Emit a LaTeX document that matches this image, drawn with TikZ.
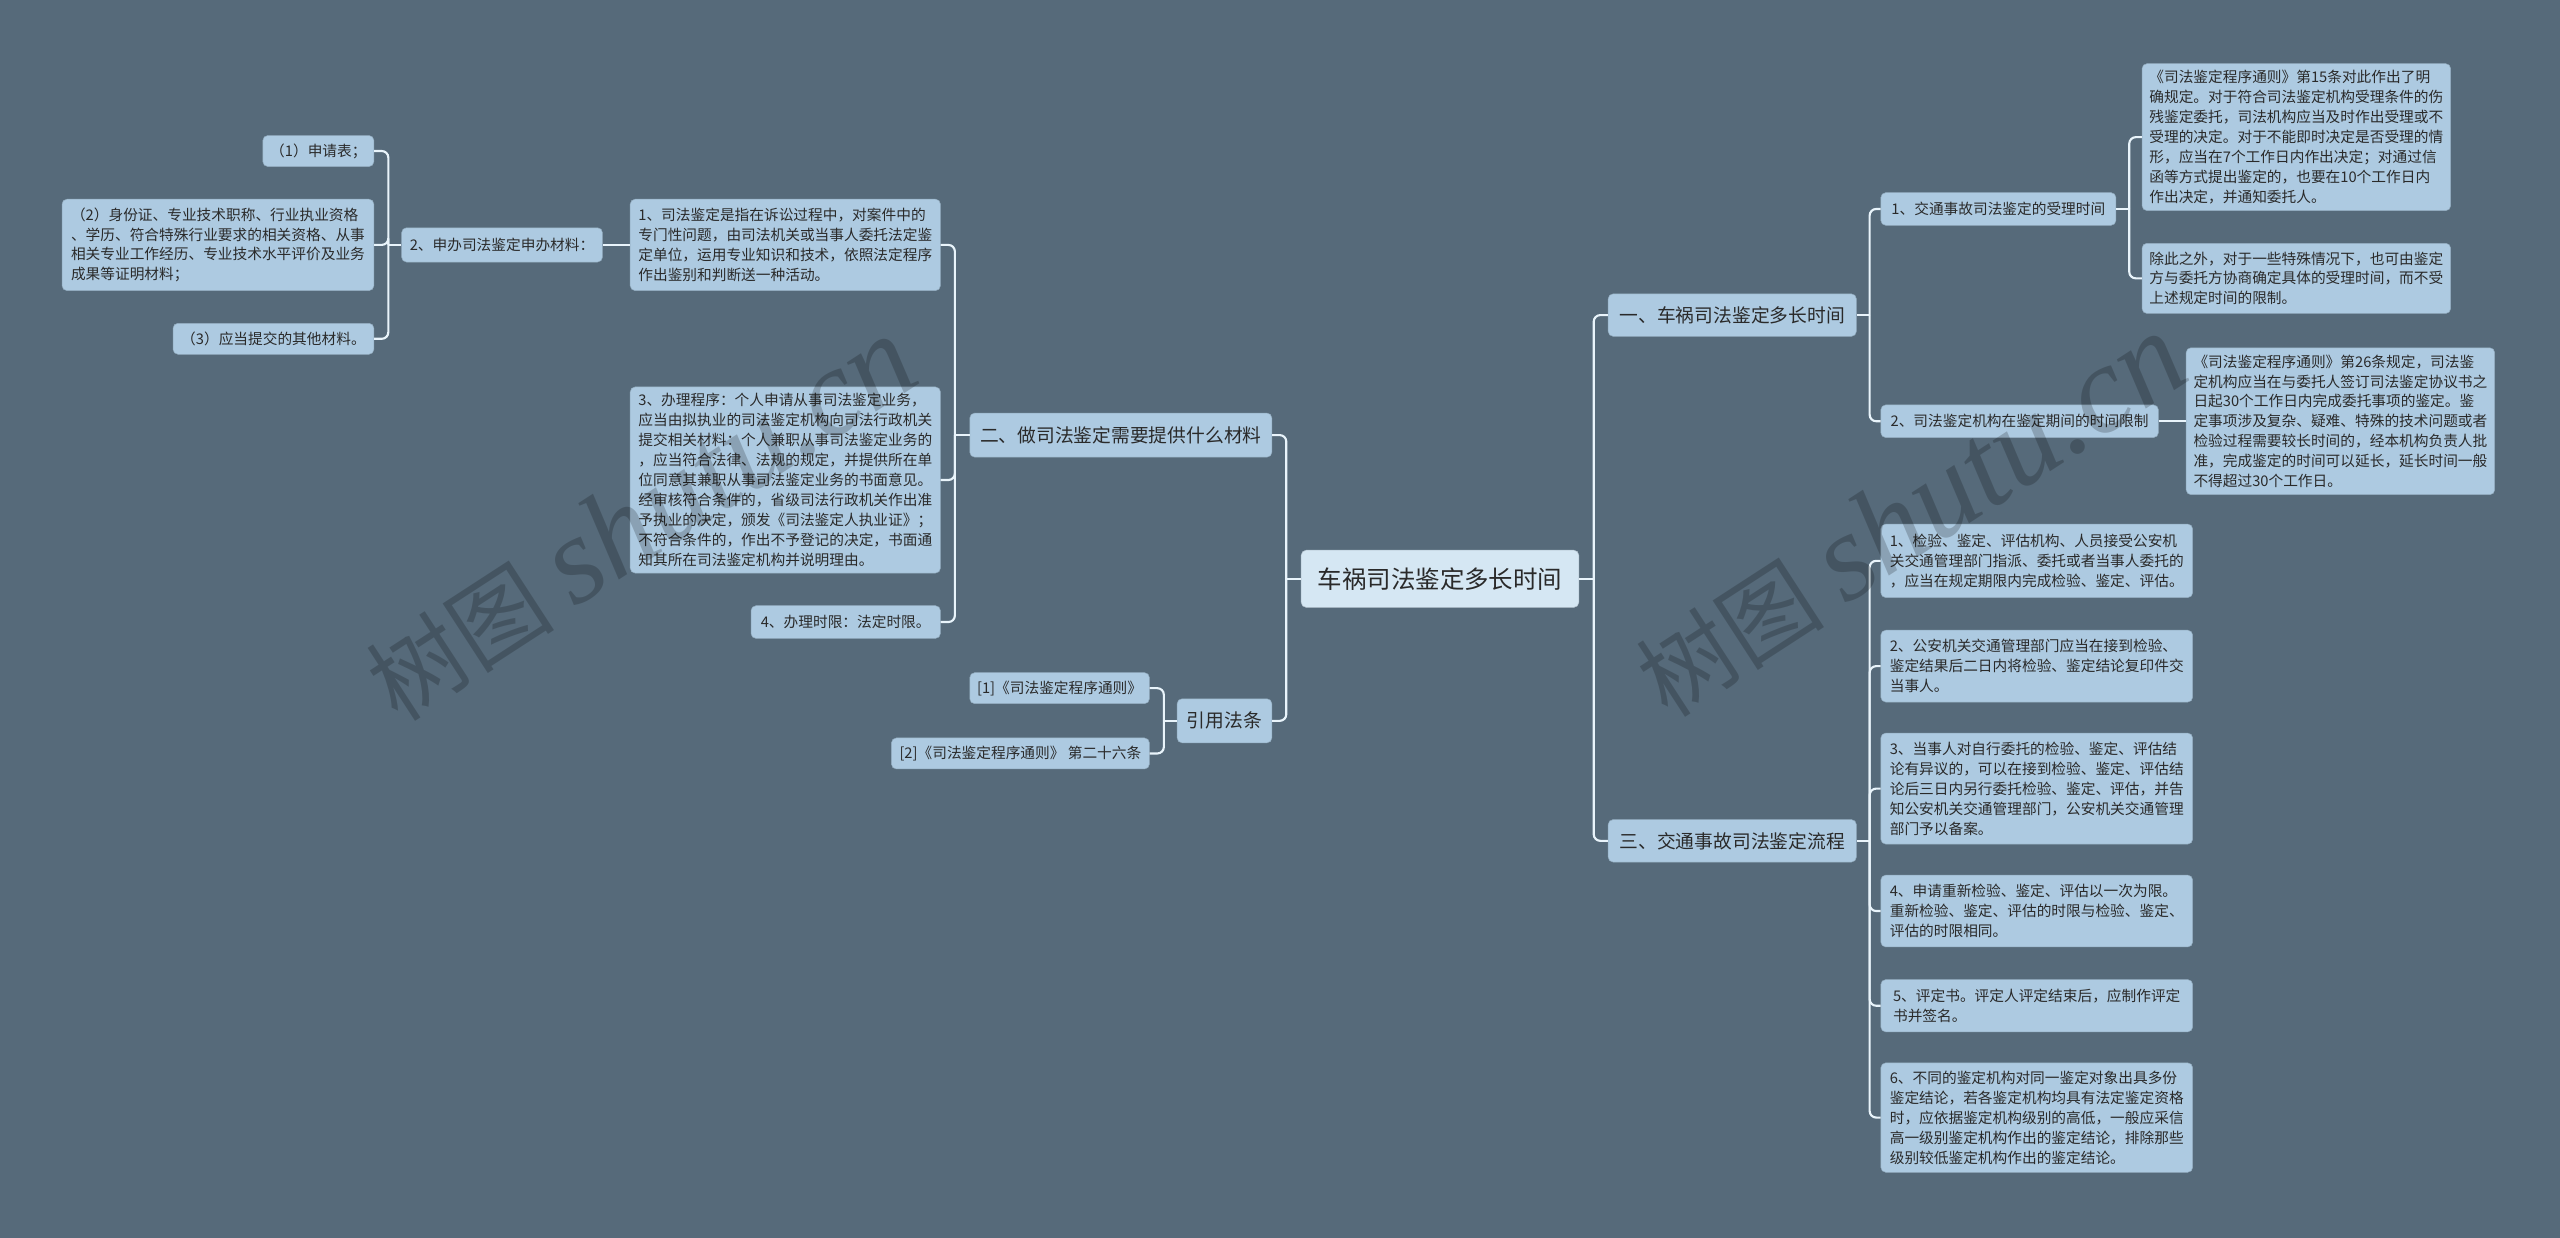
\documentclass[tikz,border=0pt]{standalone}
\usepackage{fontspec}
\newfontfamily\cjk{Noto Sans CJK SC}
\newfontfamily\wmserif{Liberation Serif}
\usetikzlibrary{positioning}
\definecolor{bgslate}{HTML}{566A7A}
\definecolor{boxblue}{HTML}{ADCAE1}
\definecolor{rootblue}{HTML}{D5E7F3}
\definecolor{linkwhite}{HTML}{E9F4FB}
\definecolor{inktext}{HTML}{2A2A2A}
\tikzset{
  link/.style={draw=linkwhite, line width=1.3pt, rounded corners=4pt},
  leafbox/.style={fill=boxblue, draw=boxblue!85!black, line width=0.3pt, rounded corners=3pt,
    text=inktext, align=left, inner sep=2pt, font=\cjk\fontsize{9}{12.2}\selectfont},
  topicbox/.style={leafbox, font=\cjk\fontsize{11.5}{14}\selectfont},
  rootbox/.style={leafbox, fill=rootblue, draw=rootblue!85!black, font=\cjk\fontsize{15}{18}\selectfont},
  wmark/.style={text=black, text opacity=0.2, rotate=33, font=\cjk\fontsize{58}{60}\selectfont}
}

\begin{document}
\begin{tikzpicture}[x=1pt,y=-1pt]
\fill[bgslate] (0,0) rectangle (1568,758);
\useasboundingbox (0,0) rectangle (1568,758);

% --- root ---
\node[rootbox, minimum width=170, minimum height=35] (root) at (882,354.5) {车祸司法鉴定多长时间};

% --- left branch: materials ---
\node[topicbox, minimum width=185, minimum height=27] (need) at (686.5,266.5) {二、做司法鉴定需要提供什么材料};
\node[leafbox, minimum width=190, minimum height=56] (defn) at (481,150)
  {1、司法鉴定是指在诉讼过程中，对案件中的\\专门性问题，由司法机关或当事人委托法定鉴\\定单位，运用专业知识和技术，依照法定程序\\作出鉴别和判断送一种活动。};
\node[leafbox, minimum width=190, minimum height=114] (proc) at (481,294)
  {3、办理程序：个人申请从事司法鉴定业务，\\应当由拟执业的司法鉴定机构向司法行政机关\\提交相关材料：个人兼职从事司法鉴定业务的\\，应当符合法律、法规的规定，并提供所在单\\位同意其兼职从事司法鉴定业务的书面意见。\\经审核符合条件的，省级司法行政机关作出准\\予执业的决定，颁发《司法鉴定人执业证》；\\不符合条件的，作出不予登记的决定，书面通\\知其所在司法鉴定机构并说明理由。};
\node[leafbox, minimum width=116, minimum height=20] (term) at (518,381) {4、办理时限：法定时限。};
\node[leafbox, minimum width=123, minimum height=21] (docs) at (307.5,150) {2、申办司法鉴定申办材料：};
\node[leafbox, minimum width=68, minimum height=19] (docA) at (195,92.5) {（1）申请表；};
\node[leafbox, minimum width=191, minimum height=56] (docB) at (133.5,150)
  {（2）身份证、专业技术职称、行业执业资格\\、学历、符合特殊行业要求的相关资格、从事\\相关专业工作经历、专业技术水平评价及业务\\成果等证明材料；};
\node[leafbox, minimum width=123, minimum height=19] (docC) at (167.5,207.5) {（3）应当提交的其他材料。};

% --- left branch: cited law ---
\node[topicbox, minimum width=58, minimum height=27] (cite) at (750,441.5) {引用法条};
\node[leafbox, minimum width=110, minimum height=19] (refA) at (649,421.5) {[1]《司法鉴定程序通则》};
\node[leafbox, minimum width=158, minimum height=19] (refB) at (625,461.5) {[2]《司法鉴定程序通则》 第二十六条};

% --- right branch: how long ---
\node[topicbox, minimum width=152, minimum height=26] (howlong) at (1061,193) {一、车祸司法鉴定多长时间};
\node[leafbox, minimum width=144, minimum height=20] (accept) at (1224,128) {1、交通事故司法鉴定的受理时间};
\node[leafbox, minimum width=170, minimum height=20] (limit) at (1237,258) {2、司法鉴定机构在鉴定期间的时间限制};
\node[leafbox, minimum width=189, minimum height=90] (acceptA) at (1406.5,84)
  {《司法鉴定程序通则》第15条对此作出了明\\确规定。对于符合司法鉴定机构受理条件的伤\\残鉴定委托，司法机构应当及时作出受理或不\\受理的决定。对于不能即时决定是否受理的情\\形，应当在7个工作日内作出决定；对通过信\\函等方式提出鉴定的，也要在10个工作日内\\作出决定，并通知委托人。};
\node[leafbox, minimum width=189, minimum height=43] (acceptB) at (1406.5,170.5)
  {除此之外，对于一些特殊情况下，也可由鉴定\\方与委托方协商确定具体的受理时间，而不受\\上述规定时间的限制。};
\node[leafbox, minimum width=189, minimum height=90] (limitA) at (1433.5,258)
  {《司法鉴定程序通则》第26条规定，司法鉴\\定机构应当在与委托人签订司法鉴定协议书之\\日起30个工作日内完成委托事项的鉴定。鉴\\定事项涉及复杂、疑难、特殊的技术问题或者\\检验过程需要较长时间的，经本机构负责人批\\准，完成鉴定的时间可以延长，延长时间一般\\不得超过30个工作日。};

% --- right branch: procedure ---
\node[topicbox, minimum width=152, minimum height=26] (flow) at (1061,515) {三、交通事故司法鉴定流程};
\node[leafbox, minimum width=191, minimum height=45] (stepA) at (1247.5,343.5)
  {1、检验、鉴定、评估机构、人员接受公安机\\关交通管理部门指派、委托或者当事人委托的\\，应当在规定期限内完成检验、鉴定、评估。};
\node[leafbox, minimum width=191, minimum height=44] (stepB) at (1247.5,408)
  {2、公安机关交通管理部门应当在接到检验、\\鉴定结果后二日内将检验、鉴定结论复印件交\\当事人。};
\node[leafbox, minimum width=191, minimum height=68] (stepC) at (1247.5,483)
  {3、当事人对自行委托的检验、鉴定、评估结\\论有异议的，可以在接到检验、鉴定、评估结\\论后三日内另行委托检验、鉴定、评估，并告\\知公安机关交通管理部门，公安机关交通管理\\部门予以备案。};
\node[leafbox, minimum width=191, minimum height=44] (stepD) at (1247.5,558)
  {4、申请重新检验、鉴定、评估以一次为限。\\重新检验、鉴定、评估的时限与检验、鉴定、\\评估的时限相同。};
\node[leafbox, minimum width=191, minimum height=32] (stepE) at (1247.5,616)
  {5、评定书。评定人评定结束后，应制作评定\\书并签名。};
\node[leafbox, minimum width=191, minimum height=67] (stepF) at (1247.5,684.5)
  {6、不同的鉴定机构对同一鉴定对象出具多份\\鉴定结论，若各鉴定机构均具有法定鉴定资格\\时，应依据鉴定机构级别的高低，一般应采信\\高一级别鉴定机构作出的鉴定结论，排除那些\\级别较低鉴定机构作出的鉴定结论。};

% Connectors (left)
\draw[link] (root.west) -- ++(-9,0) coordinate (jRootL);
\foreach \kid in {need,cite} \draw[link] (jRootL) |- (\kid.east);
\draw[link] (need.west) -- ++(-9,0) coordinate (jNeed);
\foreach \kid in {defn,proc,term} \draw[link] (jNeed) |- (\kid.east);
\draw[link] (defn.west) -- (docs.east);
\draw[link] (docs.west) -- ++(-8,0) coordinate (jDocs);
\foreach \kid in {docA,docB,docC} \draw[link] (jDocs) |- (\kid.east);
\draw[link] (cite.west) -- ++(-8,0) coordinate (jCite);
\foreach \kid in {refA,refB} \draw[link] (jCite) |- (\kid.east);

% Connectors (right)
\draw[link] (root.east) -- ++(9,0) coordinate (jRootR);
\foreach \kid in {howlong,flow} \draw[link] (jRootR) |- (\kid.west);
\draw[link] (howlong.east) -- ++(8,0) coordinate (jHow);
\foreach \kid in {accept,limit} \draw[link] (jHow) |- (\kid.west);
\draw[link] (accept.east) -- ++(8,0) coordinate (jAcc);
\foreach \kid in {acceptA,acceptB} \draw[link] (jAcc) |- (\kid.west);
\draw[link] (limit.east) -- (limitA.west);
\draw[link] (flow.east) -- ++(8,0) coordinate (jFlow);
\foreach \kid in {stepA,stepB,stepC,stepD,stepE,stepF} \draw[link] (jFlow) |- (\kid.west);

% watermarks
\node[wmark] (wmLeft) at (392,318) {树图 {\wmserif\itshape\fontsize{76}{78}\selectfont shutu.cn}};
\node[wmark] (wmRight) at (1170,316) {树图 {\wmserif\itshape\fontsize{76}{78}\selectfont shutu.cn}};
\end{tikzpicture}
\end{document}
